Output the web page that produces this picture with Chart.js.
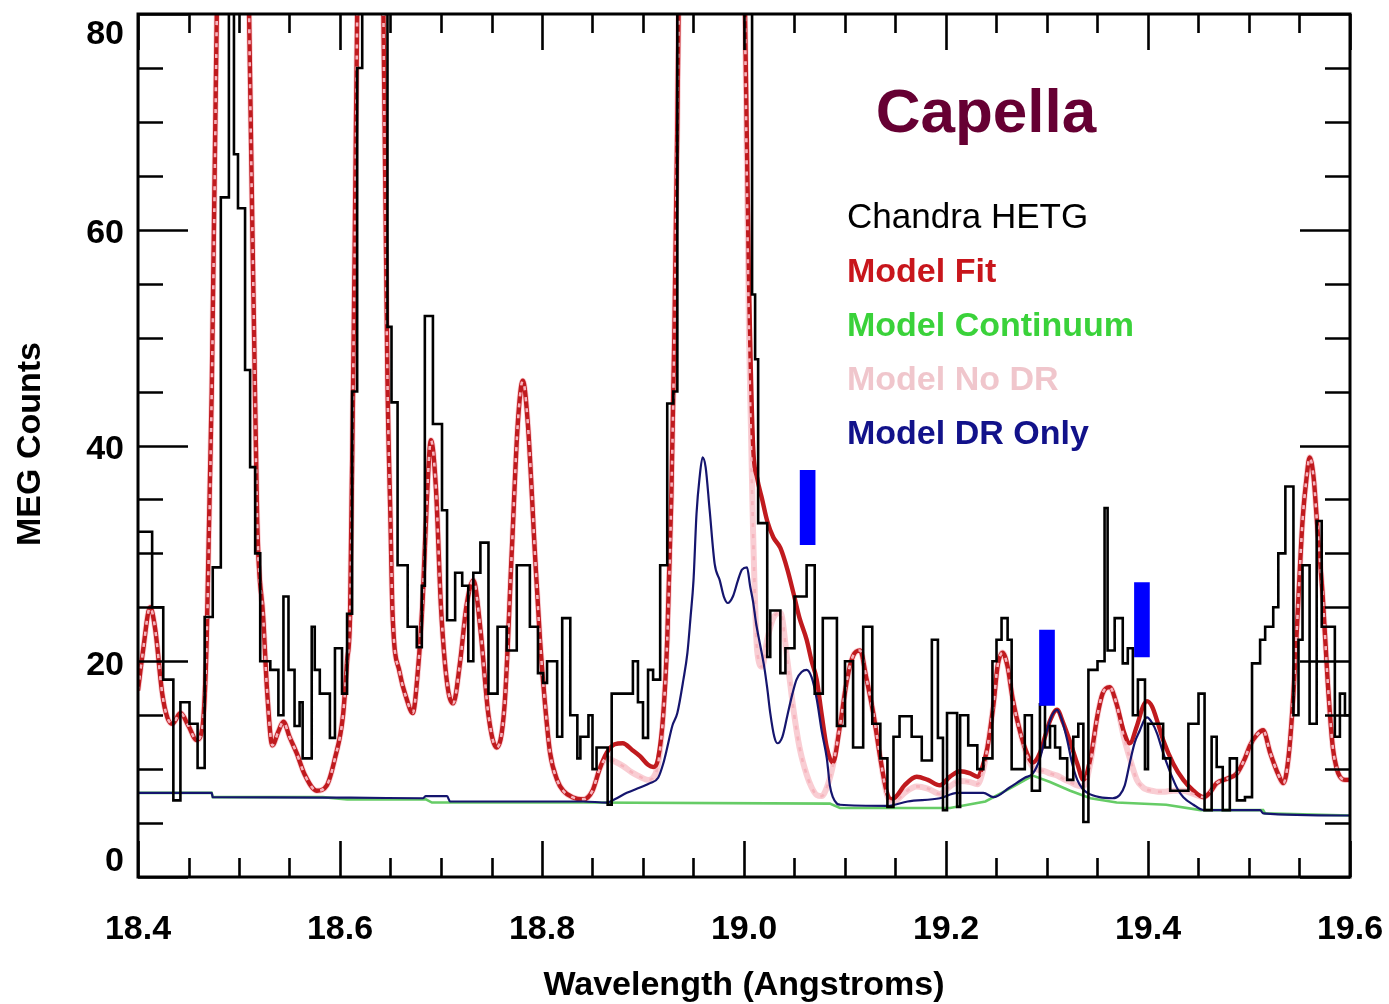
<!DOCTYPE html>
<html>
<head>
<meta charset="utf-8">
<script src="https://cdn.jsdelivr.net/npm/chart.js@4.4.1/dist/chart.umd.min.js"></script>
<style>
  html, body { margin: 0; padding: 0; background: #ffffff; overflow: hidden; }
  canvas { display: block; }
</style>
</head>
<body>
<canvas id="spectrum" width="1389" height="1004"></canvas>
<script>
// Chandra HETG (MEG) counts: left bin edges in Angstroms and counts per bin
const hetgWave = [
  18.400, 18.414, 18.425, 18.435, 18.442, 18.451, 18.459, 18.466, 18.474, 18.482,
  18.490, 18.495, 18.499, 18.506, 18.511, 18.516, 18.521, 18.531, 18.539, 18.544,
  18.549, 18.555, 18.560, 18.563, 18.572, 18.575, 18.580, 18.590, 18.595, 18.602,
  18.607, 18.612, 18.617, 18.622, 18.632, 18.640, 18.647, 18.651, 18.657, 18.667,
  18.676, 18.681, 18.684, 18.692, 18.701, 18.706, 18.714, 18.721, 18.727, 18.732,
  18.739, 18.747, 18.756, 18.765, 18.775, 18.788, 18.796, 18.801, 18.805, 18.815,
  18.820, 18.828, 18.835, 18.838, 18.846, 18.850, 18.854, 18.865, 18.869, 18.890,
  18.895, 18.900, 18.905, 18.910, 18.917, 18.924, 18.930, 18.934, 18.940, 18.947,
  18.956, 18.966, 18.976, 18.986, 18.996, 19.003, 19.008, 19.011, 19.014, 19.023,
  19.026, 19.036, 19.041, 19.050, 19.062, 19.070, 19.078, 19.092, 19.100, 19.108,
  19.118, 19.127, 19.135, 19.142, 19.148, 19.154, 19.166, 19.176, 19.186, 19.192,
  19.197, 19.201, 19.211, 19.214, 19.222, 19.231, 19.237, 19.246, 19.250, 19.255,
  19.261, 19.265, 19.278, 19.285, 19.293, 19.298, 19.303, 19.308, 19.313, 19.320,
  19.326, 19.331, 19.336, 19.341, 19.350, 19.357, 19.360, 19.367, 19.375, 19.380,
  19.385, 19.390, 19.397, 19.400, 19.415, 19.422, 19.440, 19.450, 19.456, 19.463,
  19.468, 19.474, 19.481, 19.488, 19.496, 19.503, 19.511, 19.516, 19.524, 19.529,
  19.536, 19.544, 19.549, 19.553, 19.560, 19.567, 19.572, 19.585, 19.590, 19.595,
  19.600
];
const hetgCounts = [
  32, 25, 18.3, 7.1, 16.2, 14.2, 10.1, 24.1, 28.7, 63,
  120, 67, 62, 47, 38, 30, 20, 19.2, 15, 26,
  19.2, 14, 16.2, 11, 23.2, 19.2, 17, 12.9, 21.2, 17,
  24.4, 45, 75, 120, 130, 90, 51, 44, 28.9, 23.2,
  21.3, 27, 52, 42, 34, 23.8, 28.2, 27, 20, 28.2,
  31, 17, 23.2, 21, 28.9, 23.2, 18.9, 18, 20, 13,
  24, 15, 11, 13, 15, 10, 12, 6.7, 17, 20,
  16.2, 12.9, 19.2, 18.3, 28.9, 43.9, 45, 95, 150, 180,
  250, 330, 300, 200, 120, 85, 54, 48, 32.8, 20.4,
  24.7, 18.9, 21.2, 26, 28.9, 17, 24, 14, 20, 12,
  23.2, 14.2, 11, 6.5, 13, 14.9, 13, 10.8, 22, 12.9,
  6.2, 15.2, 6.5, 15, 12.2, 10, 11, 20, 22, 24,
  22, 10, 15, 8, 16, 12, 14, 12, 11, 9,
  13, 14.2, 5.1, 19.2, 20, 34.2, 21, 24, 19.8, 21.2,
  15, 18.3, 10, 14.2, 11, 8, 14.2, 17, 6.2, 13,
  10.2, 6.2, 11, 7.1, 7.4, 19.8, 22, 23.2, 25, 30,
  36.2, 15, 22, 28.9, 14.2, 33, 23.2, 13, 17, 15,
  15
];

// Model fit and the same model without dielectronic recombination
const modelWave = [
  18.400, 18.405, 18.412, 18.417, 18.424, 18.429, 18.434, 18.442, 18.450, 18.458,
  18.464, 18.468, 18.473, 18.478, 18.494, 18.510, 18.515, 18.518, 18.524, 18.528,
  18.533, 18.539, 18.544, 18.550, 18.557, 18.565, 18.577, 18.587, 18.595, 18.603,
  18.607, 18.610, 18.613, 18.617, 18.630, 18.643, 18.647, 18.650, 18.652, 18.659,
  18.666, 18.672, 18.677, 18.682, 18.686, 18.690, 18.695, 18.700, 18.706, 18.712,
  18.719, 18.725, 18.732, 18.739, 18.747, 18.755, 18.763, 18.770, 18.776, 18.781,
  18.786, 18.793, 18.798, 18.803, 18.808, 18.815, 18.821, 18.830, 18.841, 18.850,
  18.857, 18.864, 18.872, 18.880, 18.889, 18.897, 18.905, 18.910, 18.915, 18.920,
  18.924, 18.928, 18.931, 18.934, 18.937, 18.970, 19.001, 19.005, 19.009, 19.013,
  19.018, 19.023, 19.029, 19.036, 19.043, 19.049, 19.055, 19.062, 19.067, 19.072,
  19.077, 19.082, 19.088, 19.095, 19.102, 19.108, 19.115, 19.121, 19.128, 19.135,
  19.141, 19.145, 19.151, 19.159, 19.171, 19.182, 19.194, 19.204, 19.214, 19.224,
  19.231, 19.237, 19.241, 19.247, 19.251, 19.256, 19.261, 19.266, 19.273, 19.280,
  19.286, 19.293, 19.298, 19.303, 19.310, 19.316, 19.323, 19.330, 19.336, 19.343,
  19.350, 19.355, 19.362, 19.369, 19.376, 19.382, 19.389, 19.395, 19.399, 19.404,
  19.410, 19.415, 19.425, 19.435, 19.445, 19.455, 19.461, 19.468, 19.478, 19.488,
  19.496, 19.501, 19.508, 19.514, 19.521, 19.529, 19.534, 19.539, 19.544, 19.549,
  19.553, 19.557, 19.560, 19.564, 19.568, 19.573, 19.578, 19.583, 19.587, 19.590,
  19.595, 19.600
];
const modelFit = [
  17.3, 21, 25, 23, 17, 14.8, 14.2, 15.2, 14, 12.7,
  14, 22, 45, 80, 220, 80, 50, 33, 24, 17,
  12.2, 13.5, 14.4, 13, 11.5, 9.5, 8, 8.5, 11, 15,
  20, 24.5, 46, 80, 260, 80, 46, 33, 24.5, 19,
  16.5, 15.2, 19, 26, 35, 40.5, 36, 25, 18, 16.1,
  20, 25, 27.5, 23, 15, 12, 16, 30, 42, 46,
  42, 30, 22, 16, 11.5, 9, 8, 7.4, 7.2, 8,
  10, 11.5, 12.3, 12.4, 11.8, 11.2, 10.4, 10.2, 11, 15,
  22, 35, 50, 70, 95, 450, 80, 55, 40, 37,
  35, 33, 31.5, 30.5, 28.5, 26.3, 24, 22, 20, 18.3,
  15, 12, 10.6, 14, 18.3, 20.5, 21, 18.5, 15.2, 11,
  8, 7.2, 7.5, 8.5, 9.3, 9, 8.5, 9.3, 9.8, 9.6,
  9.3, 10.5, 12, 16, 19.5, 20.8, 19.5, 16.5, 13.6, 11.5,
  10.6, 11.5, 13, 14.5, 15.5, 14.3, 12.5, 10.5, 9, 11,
  15, 17, 17.6, 16, 13.5, 12.4, 14, 15.8, 16.3, 15.8,
  14.2, 12.7, 10.5, 9, 8, 7.4, 7.8, 8.7, 9.1, 9.6,
  11, 12.2, 13.2, 13.6, 11.5, 9.5, 8.7, 11, 17, 26,
  33, 37, 38.9, 37, 32, 26, 18, 12, 10, 9.3,
  9, 9
];
const modelNoDr = [
  17.3, 21, 25, 23, 17, 14.8, 14.2, 15.2, 14, 12.7,
  14, 22, 45, 80, 220, 80, 50, 33, 24, 17,
  12.2, 13.5, 14.4, 13, 11.5, 9.5, 8, 8.5, 11, 15,
  20, 24.5, 46, 80, 260, 80, 46, 33, 24.5, 19,
  16.5, 15.2, 19, 26, 35, 40.5, 36, 25, 18, 16.1,
  20, 25, 27.5, 23, 15, 12, 16, 30, 42, 46,
  42, 30, 22, 16, 11.5, 9, 8, 7.4, 7.2, 8,
  10, 11, 10.7, 10.3, 9.7, 9.3, 9.0, 9.2, 10.5, 15,
  22, 35, 50, 70, 95, 450, 80, 50, 32, 21,
  19.5, 22, 24, 24.5, 20, 15.5, 12, 9.5, 8.3, 7.6,
  7.5, 8.3, 10.3, 14, 18.3, 20.5, 21, 18.5, 15.2, 11,
  7.8, 7.0, 7.1, 7.8, 8.4, 8.2, 7.7, 8.4, 8.9, 8.8,
  8.6, 10, 12, 16, 19.5, 20.8, 19.5, 16.5, 13.6, 11.3,
  10.2, 9.9, 9.8, 9.6, 9.4, 9.1, 8.8, 8.5, 8.4, 10.6,
  15, 17, 17.6, 16, 13, 11, 9, 8.3, 8.1, 8.0,
  7.9, 7.9, 8.0, 8.0, 7.7, 7.4, 7.8, 8.7, 9.1, 9.6,
  11, 12.2, 13.2, 13.6, 11.5, 9.5, 8.7, 11, 17, 26,
  33, 37, 38.9, 37, 32, 26, 18, 12, 10, 9.3,
  9, 9
];

// Dielectronic recombination lines only (on top of the continuum)
const drWave = [
  18.400, 18.473, 18.474, 18.610, 18.682, 18.685, 18.706, 18.709, 18.841, 18.864,
  18.872, 18.884, 18.897, 18.907, 18.915, 18.920, 18.924, 18.929, 18.934, 18.940,
  18.944, 18.947, 18.950, 18.953, 18.956, 18.959, 18.962, 18.966, 18.971, 18.976,
  18.980, 18.984, 18.989, 18.994, 18.998, 19.003, 19.006, 19.009, 19.012, 19.016,
  19.020, 19.023, 19.026, 19.030, 19.033, 19.038, 19.043, 19.048, 19.052, 19.057,
  19.062, 19.067, 19.072, 19.077, 19.082, 19.085, 19.088, 19.092, 19.095, 19.142,
  19.162, 19.194, 19.211, 19.237, 19.247, 19.263, 19.278, 19.286, 19.293, 19.300,
  19.305, 19.310, 19.315, 19.320, 19.325, 19.330, 19.335, 19.340, 19.352, 19.365,
  19.372, 19.377, 19.382, 19.387, 19.392, 19.396, 19.399, 19.404, 19.409, 19.415,
  19.422, 19.429, 19.435, 19.445, 19.455, 19.511, 19.514, 19.600
];
const drCounts = [
  7.8, 7.8, 7.4, 7.35, 7.3, 7.5, 7.5, 7.0, 7.0, 6.9,
  7.2, 7.8, 8.3, 8.7, 9.2, 10.5, 12, 14, 15.2, 18.3,
  20.8, 24, 27.5, 33.7, 37, 38.9, 38, 34, 29, 27.5,
  26, 25.4, 26, 27.5, 28.5, 28.7, 27, 25.5, 23.5, 21.5,
  19.5, 17.5, 15.2, 13, 12.4, 13, 15, 17, 18.3, 19,
  19.2, 18.5, 16.5, 13.5, 11, 8.5, 7.4, 6.8, 6.7, 6.6,
  7.0, 7.3, 7.8, 7.8, 7.4, 8.3, 9.2, 9.6, 11, 13.6,
  15, 15.5, 14.5, 12.7, 10.5, 9, 8.2, 7.8, 7.4, 7.3,
  7.6, 8.5, 10.6, 12.5, 13.6, 14.5, 14.8, 14.3, 13.3, 11.5,
  9.7, 8.2, 7.4, 6.7, 6.2, 6.2, 5.9, 5.7
];

// Model continuum
const contWave = [
  18.400, 18.473, 18.474, 18.583, 18.607, 18.685, 18.691, 18.719, 18.841, 19.085,
  19.095, 19.204, 19.239, 19.263, 19.286, 19.303, 19.323, 19.343, 19.369, 19.418,
  19.452, 19.514, 19.516, 19.600
];
const contCounts = [
  7.8, 7.8, 7.4, 7.4, 7.2, 7.2, 6.9, 6.9, 6.9, 6.8,
  6.4, 6.4, 7.0, 8.2, 9.4, 8.8, 8.0, 7.3, 6.9, 6.7,
  6.2, 6.2, 5.9, 5.7
];

// Marked DR features: position and vertical extent of each marker
const markerWave = [19.063, 19.300, 19.394];
const markerLow = [30.8, 15.9, 20.4];
const markerHigh = [37.7, 22.9, 27.3];

// Axis ticks and labels
const xTickValues = [18.4, 18.6, 18.8, 19.0, 19.2, 19.4, 19.6];
const xTickLabels = ['18.4', '18.6', '18.8', '19.0', '19.2', '19.4', '19.6'];
const yTickValues = [0, 20, 40, 60, 80];
const yTickLabels = ['0', '20', '40', '60', '80'];
const X_MINOR = 0.05, Y_MINOR = 5;
const xTitle = 'Wavelength (Angstroms)';
const yTitle = 'MEG Counts';
const chartTitle = 'Capella';

const legendLabels = ['Chandra HETG', 'Model Fit', 'Model Continuum', 'Model No DR', 'Model DR Only'];
const legendColors = ['#000000', '#c8161c', '#3ad23a', '#f0c6cc', '#12128a'];

const pts = (xs, ys) => xs.map((x, i) => ({ x: x, y: ys[i] }));

const FONT = '"Liberation Sans", Arial, sans-serif';

const axesDecor = {
  id: 'axesDecor',
  afterDraw(chart) {
    const { ctx, chartArea: a, scales } = chart;
    const xs = scales.x, ys = scales.y;
    ctx.save();
    ctx.strokeStyle = '#000';
    ctx.lineCap = 'butt';

    // inward ticks on all four sides
    ctx.lineWidth = 2.6;
    const nx = Math.round((xs.max - xs.min) / X_MINOR);
    for (let k = 0; k <= nx; k++) {
      const v = xs.min + k * X_MINOR;
      const px = Math.round(xs.getPixelForValue(v)) + 0.5;
      const len = (k % 4 === 0) ? 36 : 19;
      ctx.beginPath();
      ctx.moveTo(px, a.bottom); ctx.lineTo(px, a.bottom - len);
      ctx.moveTo(px, a.top); ctx.lineTo(px, a.top + len);
      ctx.stroke();
    }
    const ny = Math.round((ys.max - ys.min) / Y_MINOR);
    for (let k = 0; k <= ny; k++) {
      const v = ys.min + k * Y_MINOR;
      const py = Math.round(ys.getPixelForValue(v)) + 0.5;
      const len = (k % 4 === 0) ? 50 : 25;
      ctx.beginPath();
      ctx.moveTo(a.left, py); ctx.lineTo(a.left + len, py);
      ctx.moveTo(a.right, py); ctx.lineTo(a.right - len, py);
      ctx.stroke();
    }

    // frame
    ctx.lineWidth = 3;
    ctx.strokeRect(a.left, a.top, a.right - a.left, a.bottom - a.top);

    // tick labels
    ctx.fillStyle = '#000';
    ctx.font = 'bold 34px ' + FONT;
    ctx.textAlign = 'center';
    ctx.textBaseline = 'middle';
    xTickValues.forEach((v, i) => {
      ctx.fillText(xTickLabels[i], xs.getPixelForValue(v), 930);
    });
    ctx.textAlign = 'right';
    yTickValues.forEach((v, i) => {
      let py = ys.getPixelForValue(v) + 4;
      py = Math.max(a.top + 21, Math.min(a.bottom - 15, py));
      ctx.fillText(yTickLabels[i], 124, py);
    });

    // axis titles
    ctx.textAlign = 'center';
    ctx.textBaseline = 'alphabetic';
    ctx.fillText(xTitle, (a.left + a.right) / 2, 995);
    ctx.save();
    ctx.translate(31, 444);
    ctx.rotate(-Math.PI / 2);
    ctx.textBaseline = 'middle';
    ctx.fillText(yTitle, 0, 0);
    ctx.restore();

    // plot title
    ctx.fillStyle = '#660033';
    ctx.font = 'bold 62px ' + FONT;
    ctx.textAlign = 'center';
    ctx.textBaseline = 'alphabetic';
    ctx.fillText(chartTitle, 986, 132);

    // legend text
    ctx.textAlign = 'left';
    legendLabels.forEach((t, i) => {
      ctx.font = (i === 0 ? '35px ' : 'bold 34px ') + FONT;
      ctx.fillStyle = legendColors[i];
      ctx.fillText(t, 847, 228 + i * 54);
    });
    ctx.restore();
  }
};

new Chart(document.getElementById('spectrum'), {
  type: 'line',
  data: {
    datasets: [
      {
        type: 'bar',
        label: 'DR markers',
        data: markerWave.map((w, i) => ({ x: w, y: [markerLow[i], markerHigh[i]] })),
        backgroundColor: '#0000ff',
        borderWidth: 0,
        barThickness: 15,
        order: 0
      },
      {
        label: legendLabels[0],
        data: pts(hetgWave, hetgCounts),
        borderColor: '#000000',
        borderWidth: 2.6,
        stepped: true,
        pointRadius: 0,
        clip: 0,
        order: 1
      },
      {
        label: legendLabels[4],
        data: pts(drWave, drCounts),
        borderColor: '#15156e',
        borderWidth: 2.2,
        cubicInterpolationMode: 'monotone',
        pointRadius: 0,
        clip: 0,
        order: 2
      },
      {
        label: legendLabels[3],
        data: pts(modelWave, modelNoDr),
        borderColor: '#f6b4bd',
        borderWidth: 2.6,
        borderDash: [4, 7],
        cubicInterpolationMode: 'monotone',
        pointRadius: 0,
        clip: 0,
        order: 3
      },
      {
        label: legendLabels[1],
        data: pts(modelWave, modelFit),
        borderColor: '#c01a1e',
        borderWidth: 4.4,
        cubicInterpolationMode: 'monotone',
        pointRadius: 0,
        clip: 0,
        order: 4
      },
      {
        label: legendLabels[3] + ' halo',
        data: pts(modelWave, modelNoDr),
        borderColor: 'rgba(246, 178, 188, 0.65)',
        borderWidth: 6,
        cubicInterpolationMode: 'monotone',
        pointRadius: 0,
        clip: 0,
        order: 5
      },
      {
        label: legendLabels[2],
        data: pts(contWave, contCounts),
        borderColor: '#66cc66',
        borderWidth: 2.6,
        tension: 0,
        pointRadius: 0,
        clip: 0,
        order: 6
      }
    ]
  },
  options: {
    responsive: false,
    animation: false,
    devicePixelRatio: 1,
    layout: { padding: { left: 0, right: 39, top: 14, bottom: 0 } },
    plugins: { legend: { display: false }, tooltip: { enabled: false }, title: { display: false } },
    scales: {
      x: {
        type: 'linear', min: 18.4, max: 19.6, offset: false,
        grid: { display: false }, border: { display: false }, ticks: { display: false },
        afterFit(s) { s.height = 127; }
      },
      y: {
        type: 'linear', min: 0, max: 80,
        grid: { display: false }, border: { display: false }, ticks: { display: false },
        afterFit(s) { s.width = 138; }
      }
    }
  },
  plugins: [axesDecor]
});
</script>
</body>
</html>
